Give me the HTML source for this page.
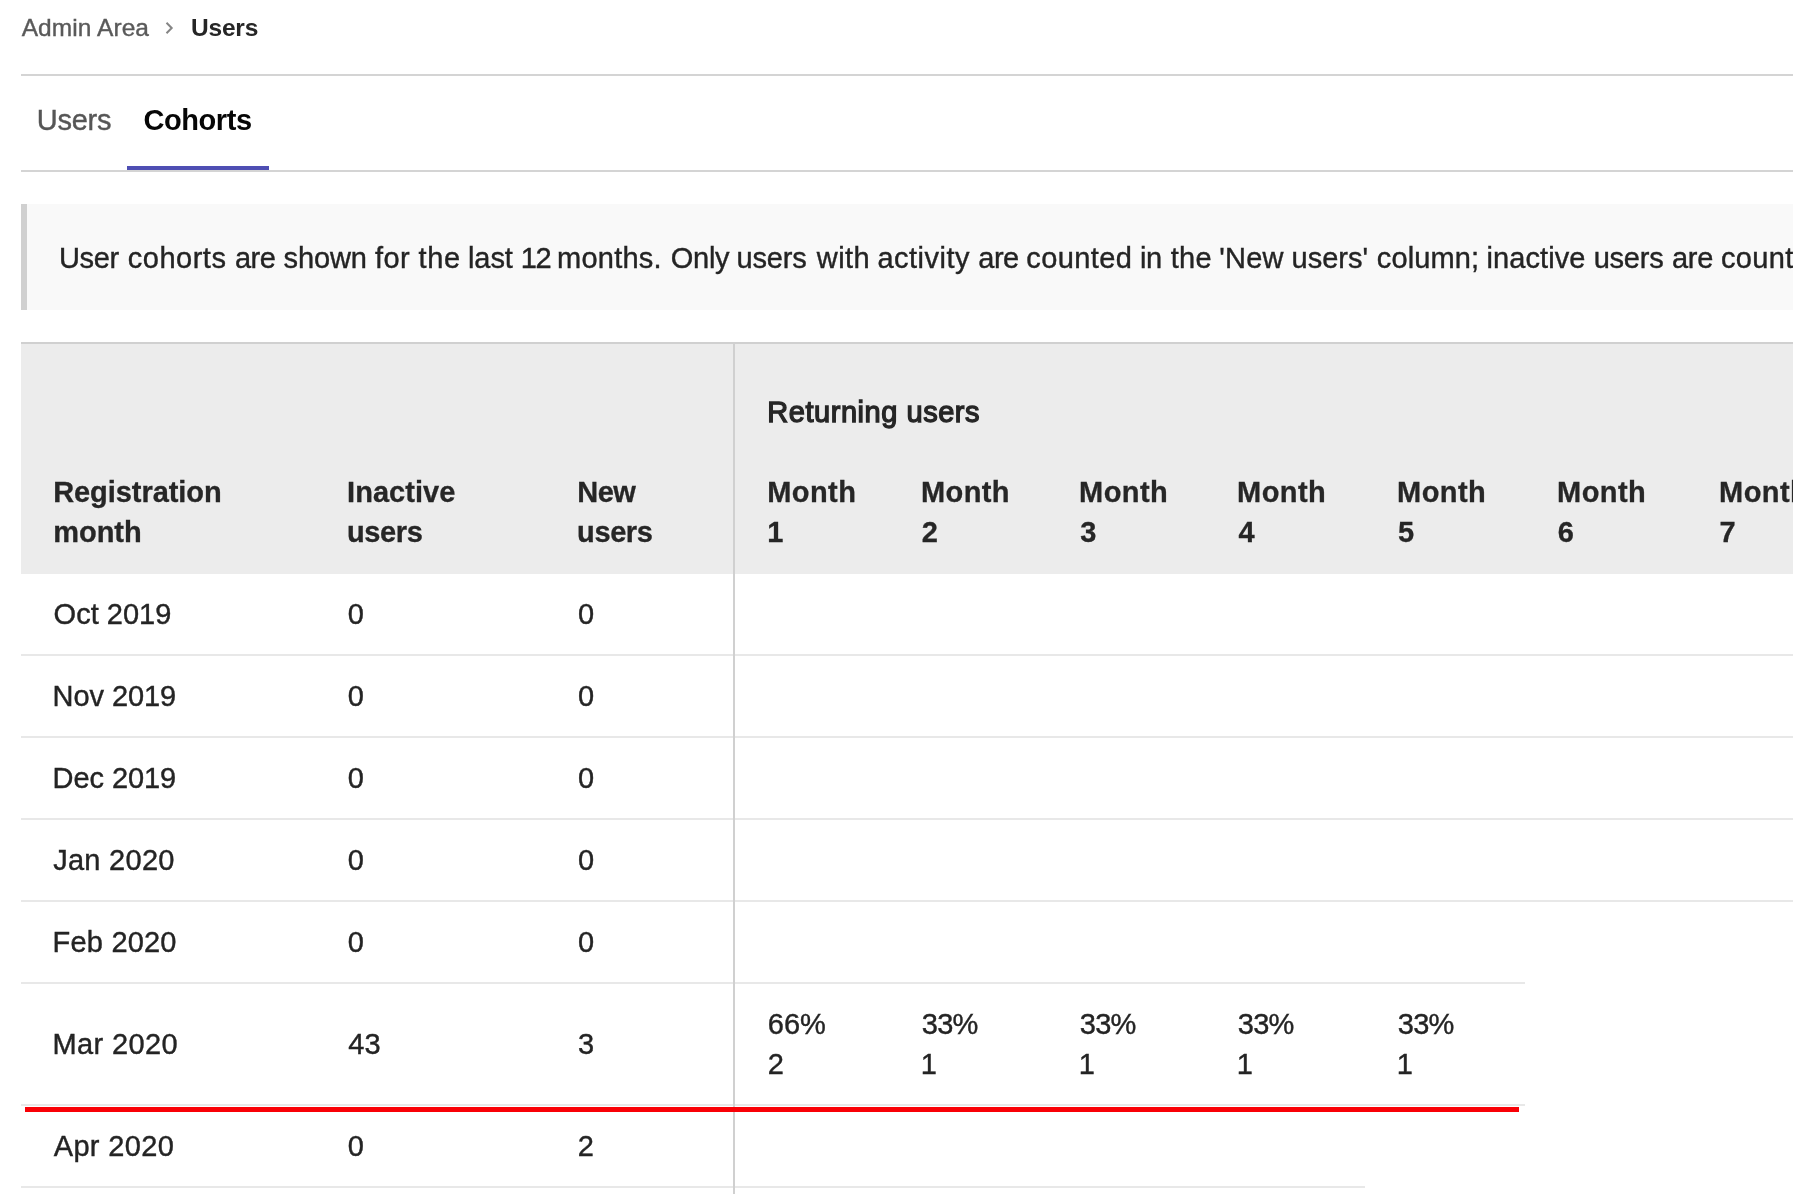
<!DOCTYPE html>
<html><head><meta charset="utf-8"><title>Cohorts</title>
<style>
html,body{margin:0;padding:0;background:#fff;}
body{width:1793px;height:1194px;overflow:hidden;position:relative;font-family:"Liberation Sans",sans-serif;}
.b{position:absolute;}
.t{position:absolute;white-space:pre;line-height:40px;}
#txt{position:absolute;left:0;top:0;width:1793px;height:1194px;will-change:transform;}
</style></head><body>
<div class="b" style="left:21px;top:74px;width:1772px;height:2px;background:#d4d4d4"></div>
<div class="b" style="left:21px;top:170px;width:1772px;height:2px;background:#d4d4d4"></div>
<div class="b" style="left:127px;top:166px;width:142px;height:4px;background:#4e4eb3"></div>
<div class="b" style="left:21px;top:204px;width:1772px;height:106px;background:#f9f9f9"></div>
<div class="b" style="left:21px;top:204px;width:6px;height:106px;background:#d0d0d0"></div>
<div class="b" style="left:21px;top:344px;width:1772px;height:230px;background:#ececec"></div>
<div class="b" style="left:21px;top:342px;width:1772px;height:2px;background:#d0d0d0"></div>
<div class="b" style="left:21px;top:654px;width:1772px;height:2px;background:#e8e8e8"></div>
<div class="b" style="left:21px;top:736px;width:1772px;height:2px;background:#e8e8e8"></div>
<div class="b" style="left:21px;top:818px;width:1772px;height:2px;background:#e8e8e8"></div>
<div class="b" style="left:21px;top:900px;width:1772px;height:2px;background:#e8e8e8"></div>
<div class="b" style="left:21px;top:982px;width:1504px;height:2px;background:#e8e8e8"></div>
<div class="b" style="left:21px;top:1104px;width:1504px;height:2px;background:#e8e8e8"></div>
<div class="b" style="left:21px;top:1186px;width:1344px;height:2px;background:#e8e8e8"></div>
<div class="b" style="left:733px;top:342px;width:2px;height:852px;background:#d0d0d0"></div>
<div class="b" style="left:25px;top:1107px;width:1494px;height:5px;background:#f90006"></div>
<svg class="b" style="left:160px;top:18px" width="20" height="22" viewBox="0 0 20 22"><path d="M6.5 4.7 L11.7 9.95 L6.5 15.2" fill="none" stroke="#858585" stroke-width="2" stroke-linecap="butt" stroke-linejoin="miter"/></svg>
<div id="txt">
<span class="t" id="bc1" style="left:21.70px;top:7.60px;font-size:24.5px;font-weight:400;color:#5a5a5a;letter-spacing:0.072px;-webkit-text-stroke:0.4px #5a5a5a;">Admin Area</span>
<span class="t" id="bc2" style="left:191.00px;top:7.60px;font-size:24.5px;font-weight:700;color:#262626;letter-spacing:-0.213px;">Users</span>
<span class="t" id="tab1" style="left:36.80px;top:99.80px;font-size:29px;font-weight:400;color:#565656;letter-spacing:-0.262px;-webkit-text-stroke:0.4px #565656;">Users</span>
<span class="t" id="tab2" style="left:143.55px;top:99.80px;font-size:29px;font-weight:700;color:#060606;letter-spacing:-0.450px;">Cohorts</span>
<span class="t" id="cw0" style="left:58.90px;top:238.00px;font-size:29px;font-weight:400;color:#242424;letter-spacing:-0.279px;-webkit-text-stroke:0.4px #242424;">User</span>
<span class="t" id="cw1" style="left:127.85px;top:238.00px;font-size:29px;font-weight:400;color:#242424;letter-spacing:0.491px;-webkit-text-stroke:0.4px #242424;">cohorts</span>
<span class="t" id="cw2" style="left:234.90px;top:238.00px;font-size:29px;font-weight:400;color:#242424;letter-spacing:-0.446px;-webkit-text-stroke:0.4px #242424;">are</span>
<span class="t" id="cw3" style="left:283.50px;top:238.00px;font-size:29px;font-weight:400;color:#242424;letter-spacing:-0.082px;-webkit-text-stroke:0.4px #242424;">shown</span>
<span class="t" id="cw4" style="left:375.05px;top:238.00px;font-size:29px;font-weight:400;color:#242424;letter-spacing:0.398px;-webkit-text-stroke:0.4px #242424;">for</span>
<span class="t" id="cw5" style="left:418.55px;top:238.00px;font-size:29px;font-weight:400;color:#242424;letter-spacing:0.606px;-webkit-text-stroke:0.4px #242424;">the</span>
<span class="t" id="cw6" style="left:467.90px;top:238.00px;font-size:29px;font-weight:400;color:#242424;letter-spacing:-0.037px;-webkit-text-stroke:0.4px #242424;">last</span>
<span class="t" id="cw7" style="left:520.85px;top:238.00px;font-size:29px;font-weight:400;color:#242424;letter-spacing:-1.443px;-webkit-text-stroke:0.4px #242424;">12</span>
<span class="t" id="cw8" style="left:557.10px;top:238.00px;font-size:29px;font-weight:400;color:#242424;letter-spacing:0.235px;-webkit-text-stroke:0.4px #242424;">months.</span>
<span class="t" id="cw9" style="left:670.65px;top:238.00px;font-size:29px;font-weight:400;color:#242424;letter-spacing:-0.217px;-webkit-text-stroke:0.4px #242424;">Only</span>
<span class="t" id="cw10" style="left:736.55px;top:238.00px;font-size:29px;font-weight:400;color:#242424;letter-spacing:-0.164px;-webkit-text-stroke:0.4px #242424;">users</span>
<span class="t" id="cw11" style="left:816.80px;top:238.00px;font-size:29px;font-weight:400;color:#242424;letter-spacing:0.452px;-webkit-text-stroke:0.4px #242424;">with</span>
<span class="t" id="cw12" style="left:877.40px;top:238.00px;font-size:29px;font-weight:400;color:#242424;letter-spacing:0.490px;-webkit-text-stroke:0.4px #242424;">activity</span>
<span class="t" id="cw13" style="left:978.30px;top:238.00px;font-size:29px;font-weight:400;color:#242424;letter-spacing:-0.546px;-webkit-text-stroke:0.4px #242424;">are</span>
<span class="t" id="cw14" style="left:1026.30px;top:238.00px;font-size:29px;font-weight:400;color:#242424;letter-spacing:0.404px;-webkit-text-stroke:0.4px #242424;">counted</span>
<span class="t" id="cw15" style="left:1140.10px;top:238.00px;font-size:29px;font-weight:400;color:#242424;letter-spacing:-0.414px;-webkit-text-stroke:0.4px #242424;">in</span>
<span class="t" id="cw16" style="left:1170.70px;top:238.00px;font-size:29px;font-weight:400;color:#242424;letter-spacing:0.256px;-webkit-text-stroke:0.4px #242424;">the</span>
<span class="t" id="cw17" style="left:1219.25px;top:238.00px;font-size:29px;font-weight:400;color:#242424;letter-spacing:0.198px;-webkit-text-stroke:0.4px #242424;">'New</span>
<span class="t" id="cw18" style="left:1291.55px;top:238.00px;font-size:29px;font-weight:400;color:#242424;letter-spacing:0.012px;-webkit-text-stroke:0.4px #242424;">users'</span>
<span class="t" id="cw19" style="left:1376.80px;top:238.00px;font-size:29px;font-weight:400;color:#242424;letter-spacing:0.111px;-webkit-text-stroke:0.4px #242424;">column;</span>
<span class="t" id="cw20" style="left:1486.60px;top:238.00px;font-size:29px;font-weight:400;color:#242424;letter-spacing:0.079px;-webkit-text-stroke:0.4px #242424;">inactive</span>
<span class="t" id="cw21" style="left:1593.65px;top:238.00px;font-size:29px;font-weight:400;color:#242424;letter-spacing:-0.214px;-webkit-text-stroke:0.4px #242424;">users</span>
<span class="t" id="cw22" style="left:1672.00px;top:238.00px;font-size:29px;font-weight:400;color:#242424;letter-spacing:-0.296px;-webkit-text-stroke:0.4px #242424;">are</span>
<span class="t" id="cw23" style="left:1720.90px;top:238.00px;font-size:29px;font-weight:400;color:#242424;letter-spacing:0.350px;-webkit-text-stroke:0.4px #242424;">counted</span>
<span class="t" id="h_reg" style="left:53.15px;top:472.00px;font-size:29px;font-weight:700;color:#262626;letter-spacing:-0.055px;-webkit-text-stroke:0.3px #262626;">Registration</span>
<span class="t" id="h_mon" style="left:53.15px;top:512.00px;font-size:29px;font-weight:700;color:#262626;-webkit-text-stroke:0.3px #262626;">month</span>
<span class="t" id="h_ina" style="left:347.05px;top:472.00px;font-size:29px;font-weight:700;color:#262626;letter-spacing:0.043px;-webkit-text-stroke:0.3px #262626;">Inactive</span>
<span class="t" id="h_iu" style="left:347.05px;top:512.00px;font-size:29px;font-weight:700;color:#262626;letter-spacing:-0.387px;-webkit-text-stroke:0.3px #262626;">users</span>
<span class="t" id="h_new" style="left:577.15px;top:472.00px;font-size:29px;font-weight:700;color:#262626;letter-spacing:-0.450px;-webkit-text-stroke:0.3px #262626;">New</span>
<span class="t" id="h_nu" style="left:577.10px;top:512.00px;font-size:29px;font-weight:700;color:#262626;letter-spacing:-0.400px;-webkit-text-stroke:0.3px #262626;">users</span>
<span class="t" id="h_ret" style="left:767.25px;top:391.70px;font-size:29px;font-weight:400;color:#262626;letter-spacing:0.543px;-webkit-text-stroke:1.3px #262626;">Returning users</span>
<span class="t" id="h_m0" style="left:767.25px;top:472.00px;font-size:29px;font-weight:700;color:#262626;letter-spacing:0.412px;-webkit-text-stroke:0.3px #262626;">Month</span>
<span class="t" id="h_n0" style="left:767.25px;top:512.00px;font-size:29px;font-weight:700;color:#262626;-webkit-text-stroke:0.3px #262626;">1</span>
<span class="t" id="h_m1" style="left:921.10px;top:472.00px;font-size:29px;font-weight:700;color:#262626;letter-spacing:0.350px;-webkit-text-stroke:0.3px #262626;">Month</span>
<span class="t" id="h_n1" style="left:921.85px;top:512.00px;font-size:29px;font-weight:700;color:#262626;-webkit-text-stroke:0.3px #262626;">2</span>
<span class="t" id="h_m2" style="left:1079.10px;top:472.00px;font-size:29px;font-weight:700;color:#262626;letter-spacing:0.425px;-webkit-text-stroke:0.3px #262626;">Month</span>
<span class="t" id="h_n2" style="left:1080.35px;top:512.00px;font-size:29px;font-weight:700;color:#262626;-webkit-text-stroke:0.3px #262626;">3</span>
<span class="t" id="h_m3" style="left:1237.10px;top:472.00px;font-size:29px;font-weight:700;color:#262626;letter-spacing:0.425px;-webkit-text-stroke:0.3px #262626;">Month</span>
<span class="t" id="h_n3" style="left:1238.60px;top:512.00px;font-size:29px;font-weight:700;color:#262626;-webkit-text-stroke:0.3px #262626;">4</span>
<span class="t" id="h_m4" style="left:1397.10px;top:472.00px;font-size:29px;font-weight:700;color:#262626;letter-spacing:0.425px;-webkit-text-stroke:0.3px #262626;">Month</span>
<span class="t" id="h_n4" style="left:1398.10px;top:512.00px;font-size:29px;font-weight:700;color:#262626;-webkit-text-stroke:0.3px #262626;">5</span>
<span class="t" id="h_m5" style="left:1557.10px;top:472.00px;font-size:29px;font-weight:700;color:#262626;letter-spacing:0.425px;-webkit-text-stroke:0.3px #262626;">Month</span>
<span class="t" id="h_n5" style="left:1557.85px;top:512.00px;font-size:29px;font-weight:700;color:#262626;-webkit-text-stroke:0.3px #262626;">6</span>
<span class="t" id="h_m6" style="left:1719.10px;top:472.00px;font-size:29px;font-weight:700;color:#262626;letter-spacing:0.425px;-webkit-text-stroke:0.3px #262626;">Month</span>
<span class="t" id="h_n6" style="left:1719.60px;top:512.00px;font-size:29px;font-weight:700;color:#262626;-webkit-text-stroke:0.3px #262626;">7</span>
<span class="t" id="r0m" style="left:53.60px;top:594.00px;font-size:29px;font-weight:400;color:#242424;-webkit-text-stroke:0.4px #242424;">Oct 2019</span>
<span class="t" id="r0a" style="left:347.80px;top:594.00px;font-size:29px;font-weight:400;color:#242424;-webkit-text-stroke:0.4px #242424;">0</span>
<span class="t" id="r0n" style="left:577.90px;top:594.00px;font-size:29px;font-weight:400;color:#242424;-webkit-text-stroke:0.4px #242424;">0</span>
<span class="t" id="r1m" style="left:52.60px;top:676.00px;font-size:29px;font-weight:400;color:#242424;letter-spacing:-0.079px;-webkit-text-stroke:0.4px #242424;">Nov 2019</span>
<span class="t" id="r1a" style="left:347.80px;top:676.00px;font-size:29px;font-weight:400;color:#242424;-webkit-text-stroke:0.4px #242424;">0</span>
<span class="t" id="r1n" style="left:577.90px;top:676.00px;font-size:29px;font-weight:400;color:#242424;-webkit-text-stroke:0.4px #242424;">0</span>
<span class="t" id="r2m" style="left:52.60px;top:758.00px;font-size:29px;font-weight:400;color:#242424;letter-spacing:-0.079px;-webkit-text-stroke:0.4px #242424;">Dec 2019</span>
<span class="t" id="r2a" style="left:347.80px;top:758.00px;font-size:29px;font-weight:400;color:#242424;-webkit-text-stroke:0.4px #242424;">0</span>
<span class="t" id="r2n" style="left:577.90px;top:758.00px;font-size:29px;font-weight:400;color:#242424;-webkit-text-stroke:0.4px #242424;">0</span>
<span class="t" id="r3m" style="left:53.20px;top:840.00px;font-size:29px;font-weight:400;color:#242424;letter-spacing:0.279px;-webkit-text-stroke:0.4px #242424;">Jan 2020</span>
<span class="t" id="r3a" style="left:347.80px;top:840.00px;font-size:29px;font-weight:400;color:#242424;-webkit-text-stroke:0.4px #242424;">0</span>
<span class="t" id="r3n" style="left:577.90px;top:840.00px;font-size:29px;font-weight:400;color:#242424;-webkit-text-stroke:0.4px #242424;">0</span>
<span class="t" id="r4m" style="left:52.60px;top:922.00px;font-size:29px;font-weight:400;color:#242424;letter-spacing:0.193px;-webkit-text-stroke:0.4px #242424;">Feb 2020</span>
<span class="t" id="r4a" style="left:347.80px;top:922.00px;font-size:29px;font-weight:400;color:#242424;-webkit-text-stroke:0.4px #242424;">0</span>
<span class="t" id="r4n" style="left:577.90px;top:922.00px;font-size:29px;font-weight:400;color:#242424;-webkit-text-stroke:0.4px #242424;">0</span>
<span class="t" id="r5m" style="left:52.60px;top:1024.00px;font-size:29px;font-weight:400;color:#242424;letter-spacing:0.358px;-webkit-text-stroke:0.4px #242424;">Mar 2020</span>
<span class="t" id="r5a" style="left:348.30px;top:1024.00px;font-size:29px;font-weight:400;color:#242424;-webkit-text-stroke:0.4px #242424;">43</span>
<span class="t" id="r5n" style="left:577.90px;top:1024.00px;font-size:29px;font-weight:400;color:#242424;-webkit-text-stroke:0.4px #242424;">3</span>
<span class="t" id="r6m" style="left:53.70px;top:1126.00px;font-size:29px;font-weight:400;color:#242424;letter-spacing:0.351px;-webkit-text-stroke:0.4px #242424;">Apr 2020</span>
<span class="t" id="r6a" style="left:347.80px;top:1126.00px;font-size:29px;font-weight:400;color:#242424;-webkit-text-stroke:0.4px #242424;">0</span>
<span class="t" id="r6n" style="left:577.65px;top:1126.00px;font-size:29px;font-weight:400;color:#242424;-webkit-text-stroke:0.4px #242424;">2</span>
<span class="t" id="p0" style="left:767.75px;top:1004.00px;font-size:29px;font-weight:400;color:#242424;-webkit-text-stroke:0.4px #242424;">66%</span>
<span class="t" id="c0" style="left:767.75px;top:1044.00px;font-size:29px;font-weight:400;color:#242424;-webkit-text-stroke:0.4px #242424;">2</span>
<span class="t" id="p1" style="left:921.85px;top:1004.00px;font-size:29px;font-weight:400;color:#242424;letter-spacing:-0.825px;-webkit-text-stroke:0.4px #242424;">33%</span>
<span class="t" id="c1" style="left:920.85px;top:1044.00px;font-size:29px;font-weight:400;color:#242424;-webkit-text-stroke:0.4px #242424;">1</span>
<span class="t" id="p2" style="left:1079.85px;top:1004.00px;font-size:29px;font-weight:400;color:#242424;letter-spacing:-0.825px;-webkit-text-stroke:0.4px #242424;">33%</span>
<span class="t" id="c2" style="left:1078.85px;top:1044.00px;font-size:29px;font-weight:400;color:#242424;-webkit-text-stroke:0.4px #242424;">1</span>
<span class="t" id="p3" style="left:1237.85px;top:1004.00px;font-size:29px;font-weight:400;color:#242424;letter-spacing:-0.825px;-webkit-text-stroke:0.4px #242424;">33%</span>
<span class="t" id="c3" style="left:1236.85px;top:1044.00px;font-size:29px;font-weight:400;color:#242424;-webkit-text-stroke:0.4px #242424;">1</span>
<span class="t" id="p4" style="left:1397.85px;top:1004.00px;font-size:29px;font-weight:400;color:#242424;letter-spacing:-0.825px;-webkit-text-stroke:0.4px #242424;">33%</span>
<span class="t" id="c4" style="left:1396.85px;top:1044.00px;font-size:29px;font-weight:400;color:#242424;-webkit-text-stroke:0.4px #242424;">1</span>
</div>
</body></html>
